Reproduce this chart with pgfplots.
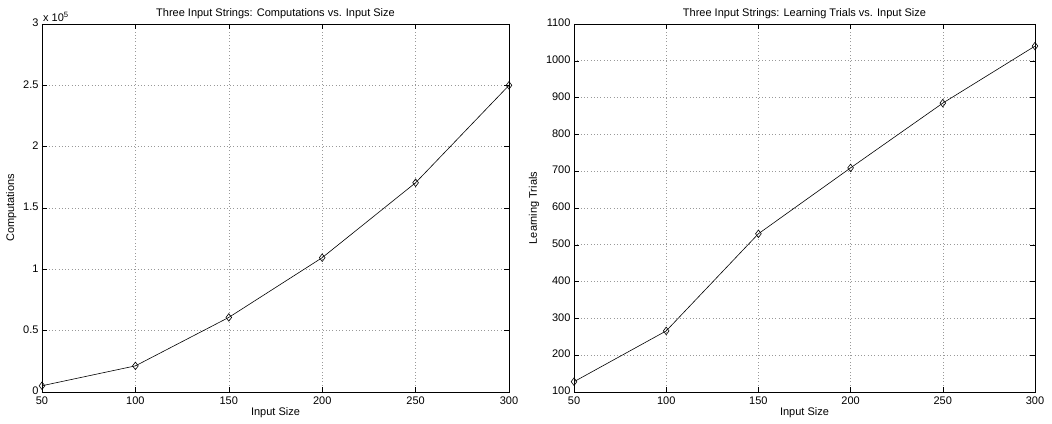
\documentclass[border=0pt]{standalone}
\usepackage{fontspec}
\setmainfont{Liberation Sans}
\usepackage{pgfplots}
\pgfplotsset{compat=1.18}

% MATLAB-like look shared by both panels
\pgfplotsset{
  matlab/.style={
    scale only axis,
    height=368pt,
    xmin=50, xmax=300,
    xtick={50,100,150,200,250,300},
    tick align=inside,
    major tick length=5pt,
    tick style={black, line width=0.5pt},
    axis line style={line width=0.8pt},
    grid=major,
    major grid style={dash pattern=on 0.7pt off 2.6pt, gray!80, line width=0.6pt},
    /pgf/number format/assume math mode=true,
    /pgf/number format/set thousands separator={},
    ticklabel style={font=\fontsize{11}{13}\selectfont},
    xticklabel style={yshift=-1.5pt},
    yticklabel style={yshift=1pt},
    label style={font=\fontsize{11}{13}\selectfont},
    title style={font=\fontsize{11}{13}\selectfont, yshift=-4pt},
    xlabel={Input Size},
    xlabel style={yshift=4.5pt},
  },
  series/.style={black, line width=0.6pt, mark=diamond, mark size=3.8pt, mark options={solid, fill=none, line width=0.6pt}},
}

\begin{document}
\begin{tikzpicture}[x=1pt,y=1pt]
\path[use as bounding box] (0,0) rectangle (1052,423);

\begin{axis}[
  matlab,
  at={(42pt,31pt)}, anchor=south west,
  width=467pt,
  ymin=0, ymax=300000,
  ytick={0,50000,100000,150000,200000,250000,300000},
  scaled y ticks=base 10:-5,
  ytick scale label code/.code={x 10\textsuperscript{5}},
  every y tick scale label/.style={at={(rel axis cs:0,1)}, anchor=south west, inner sep=1pt, font=\fontsize{11}{13}\selectfont},
  ylabel={Computations},
  title={Three Input Strings: Computations vs. Input Size},
]
\addplot[series] coordinates {
  (50, 5100)
  (100, 21300)
  (150, 60800)
  (200, 109500)
  (250, 170600)
  (300, 250000)
};
\end{axis}

\begin{axis}[
  matlab,
  at={(574pt,31pt)}, anchor=south west,
  width=461pt,
  ymin=100, ymax=1100,
  ytick={100,200,...,1100},
  ylabel={Learning Trials},
  title={Three Input Strings: Learning Trials vs. Input Size},
]
\addplot[series] coordinates {
  (50, 128)
  (100, 266)
  (150, 530)
  (200, 709)
  (250, 885)
  (300, 1040)
};
\end{axis}
\end{tikzpicture}
\end{document}
